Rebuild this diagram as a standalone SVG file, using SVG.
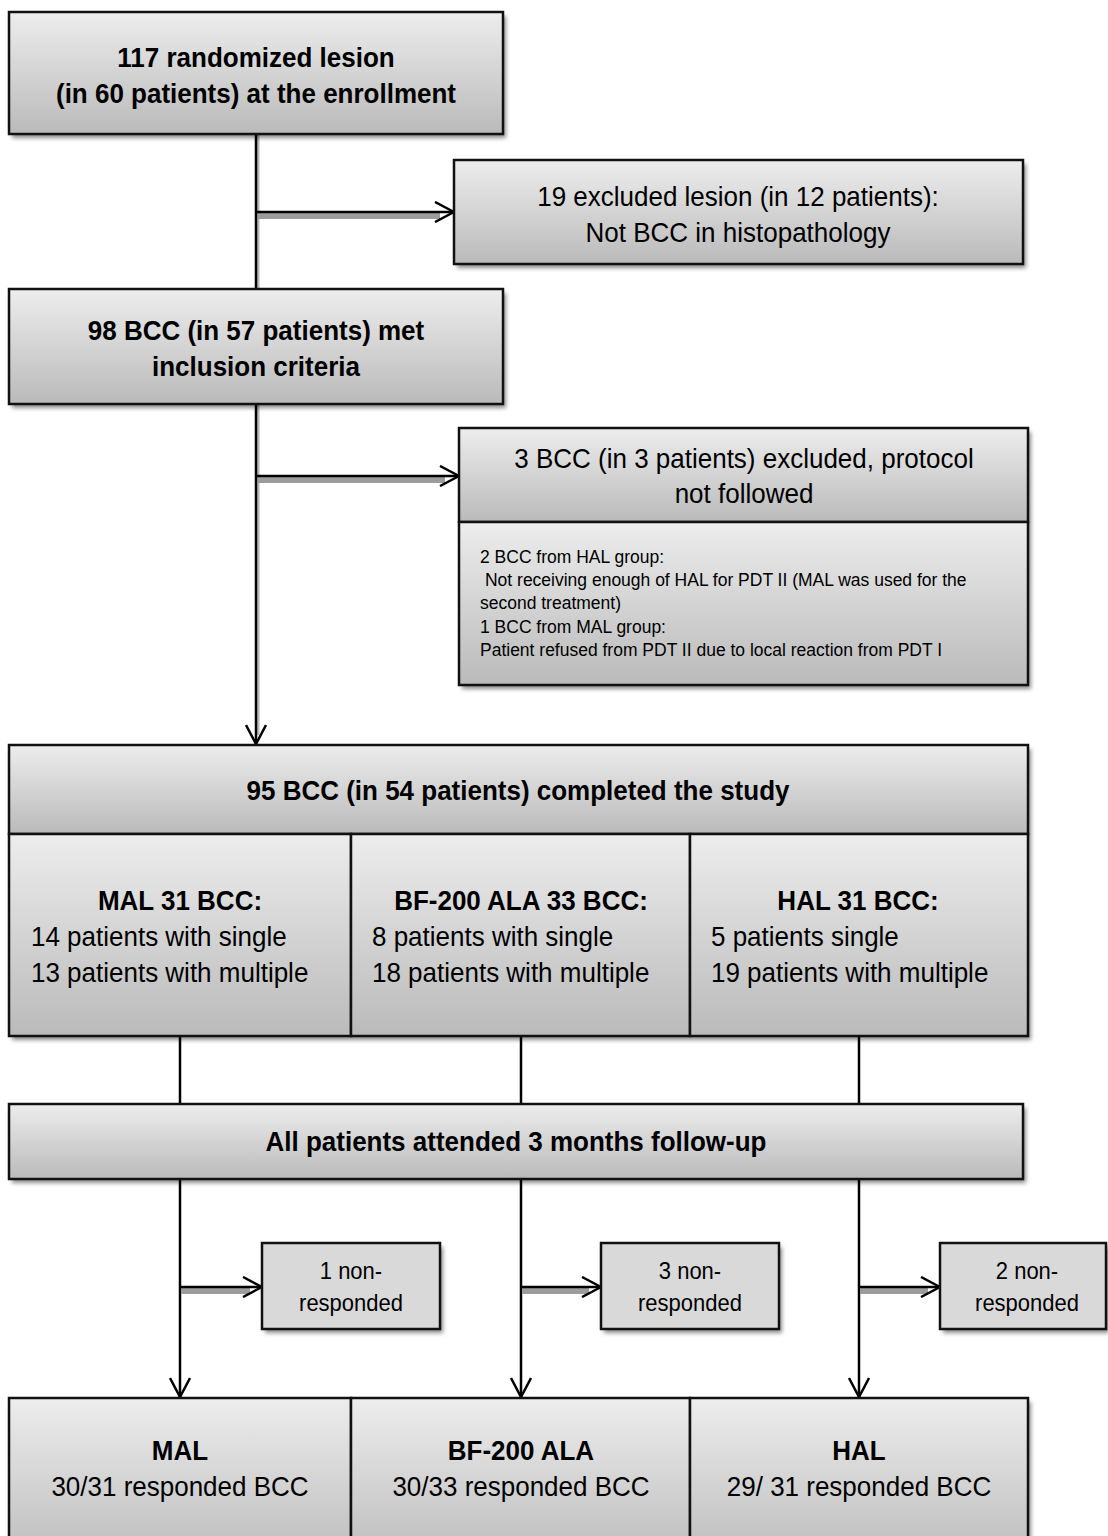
<svg xmlns="http://www.w3.org/2000/svg" width="1108" height="1536" viewBox="0 0 1108 1536">
<defs>
<linearGradient id="g" x1="0" y1="0" x2="0" y2="1">
<stop offset="0" stop-color="#ededed"/>
<stop offset="1" stop-color="#bababa"/>
</linearGradient>
<filter id="sh" x="-5%" y="-10%" width="115%" height="130%">
<feDropShadow dx="3" dy="4" stdDeviation="2" flood-color="#000" flood-opacity="0.45"/>
</filter>
<marker id="ah" viewBox="0 0 22 22" refX="20" refY="11" markerWidth="22" markerHeight="22" markerUnits="userSpaceOnUse" orient="auto">
<path d="M1,1 L20,11 L1,21" fill="none" stroke="#000" stroke-width="2.5"/>
</marker>
<style>
.box{fill:url(#g);stroke:#111;stroke-width:2.5}
.flat{fill:#d9d9d9;stroke:#111;stroke-width:2.5}
.shd{fill:#888;filter:url(#sh)}
.ln{stroke:#000;stroke-width:2.5;fill:none}
.sl{stroke:#9c9c9c;stroke-width:6;fill:none}
.vs{stroke:#b8b8b8;stroke-width:3;fill:none}
text{font-family:"Liberation Sans",Arial,sans-serif;fill:#000;transform-box:fill-box;transform-origin:50% 100%;transform:scaleY(1.08)}
.b{font-size:26px;font-weight:bold;text-anchor:middle}
.r{font-size:26px;text-anchor:middle}
.l{font-size:26px}
.s{font-size:17.5px}
.n{font-size:22px;text-anchor:middle}
</style>
</defs>
<rect width="1108" height="1536" fill="#fff"/>

<g id="connectors">
<line class="vs" x1="258" y1="134" x2="258" y2="289"/>
<line class="vs" x1="258" y1="404" x2="258" y2="735"/>
<line class="ln" x1="256" y1="134" x2="256" y2="289"/>
<line class="ln" x1="256" y1="404" x2="256" y2="744" marker-end="url(#ah)"/>
<line class="sl" x1="258" y1="216" x2="440" y2="216"/>
<line class="ln" x1="256" y1="212" x2="454" y2="212" marker-end="url(#ah)"/>
<line class="sl" x1="258" y1="480" x2="445" y2="480"/>
<line class="ln" x1="256" y1="476" x2="459" y2="476" marker-end="url(#ah)"/>
<line class="ln" x1="180" y1="1036" x2="180" y2="1104"/>
<line class="ln" x1="521" y1="1036" x2="521" y2="1104"/>
<line class="ln" x1="859" y1="1036" x2="859" y2="1104"/>
<line class="ln" x1="180" y1="1179" x2="180" y2="1397" marker-end="url(#ah)"/>
<line class="ln" x1="521" y1="1179" x2="521" y2="1397" marker-end="url(#ah)"/>
<line class="ln" x1="859" y1="1179" x2="859" y2="1397" marker-end="url(#ah)"/>
<line class="sl" x1="181" y1="1291" x2="250" y2="1291"/>
<line class="ln" x1="180" y1="1287" x2="262" y2="1287" marker-end="url(#ah)"/>
<line class="sl" x1="522" y1="1291" x2="589" y2="1291"/>
<line class="ln" x1="521" y1="1287" x2="601" y2="1287" marker-end="url(#ah)"/>
<line class="sl" x1="860" y1="1291" x2="928" y2="1291"/>
<line class="ln" x1="859" y1="1287" x2="940" y2="1287" marker-end="url(#ah)"/>
</g>

<g id="enrollment">
<rect class="shd" x="9" y="12" width="494" height="122"/>
<rect class="box" x="9" y="12" width="494" height="122"/>
<text class="b" x="256" y="67">117 randomized lesion</text>
<text class="b" x="256" y="103">(in 60 patients) at the enrollment</text>
</g>

<g id="excluded1">
<rect class="shd" x="454" y="160" width="569" height="104"/>
<rect class="box" x="454" y="160" width="569" height="104"/>
<text class="r" x="738" y="206">19 excluded lesion (in 12 patients):</text>
<text class="r" x="738" y="242">Not BCC in histopathology</text>
</g>

<g id="inclusion">
<rect class="shd" x="9" y="289" width="494" height="115"/>
<rect class="box" x="9" y="289" width="494" height="115"/>
<text class="b" x="256" y="340">98 BCC (in 57 patients) met</text>
<text class="b" x="256" y="376">inclusion criteria</text>
</g>

<g id="excluded2">
<rect class="shd" x="459" y="428" width="569" height="257"/>
<rect class="box" x="459" y="428" width="569" height="94"/>
<rect class="box" x="459" y="522" width="569" height="163"/>
<text class="r" x="744" y="468">3 BCC (in 3 patients) excluded, protocol</text>
<text class="r" x="744" y="503">not followed</text>
<text class="s" x="480" y="563">2 BCC from HAL group:</text>
<text class="s" x="485" y="586">Not receiving enough of HAL for PDT II (MAL was used for the</text>
<text class="s" x="480" y="609">second treatment)</text>
<text class="s" x="480" y="633">1 BCC from MAL group:</text>
<text class="s" x="480" y="656">Patient refused from PDT II due to local reaction from PDT I</text>
</g>

<g id="completed">
<rect class="shd" x="9" y="745" width="1019" height="291"/>
<rect class="box" x="9" y="745" width="1019" height="89"/>
<rect class="box" x="9" y="834" width="342" height="202"/>
<rect class="box" x="351" y="834" width="339" height="202"/>
<rect class="box" x="690" y="834" width="338" height="202"/>
<text class="b" x="518" y="800">95 BCC (in 54 patients) completed the study</text>
<text class="b" x="180" y="910">MAL 31 BCC:</text>
<text class="l" x="31" y="946">14 patients with single</text>
<text class="l" x="31" y="982">13 patients with multiple</text>
<text class="b" x="521" y="910">BF-200 ALA 33 BCC:</text>
<text class="l" x="372" y="946">8 patients with single</text>
<text class="l" x="372" y="982">18 patients with multiple</text>
<text class="b" x="858" y="910">HAL 31 BCC:</text>
<text class="l" x="711" y="946">5 patients single</text>
<text class="l" x="711" y="982">19 patients with multiple</text>
</g>

<g id="followup">
<rect class="shd" x="9" y="1104" width="1014" height="75"/>
<rect class="box" x="9" y="1104" width="1014" height="75"/>
<text class="b" x="516" y="1151">All patients attended 3 months follow-up</text>
</g>

<g id="nonresp-mal">
<rect class="shd" x="262" y="1243" width="178" height="86"/>
<rect class="flat" x="262" y="1243" width="178" height="86"/>
<text class="n" x="351" y="1279">1 non-</text>
<text class="n" x="351" y="1311">responded</text>
</g>

<g id="nonresp-bf">
<rect class="shd" x="601" y="1243" width="178" height="86"/>
<rect class="flat" x="601" y="1243" width="178" height="86"/>
<text class="n" x="690" y="1279">3 non-</text>
<text class="n" x="690" y="1311">responded</text>
</g>

<g id="nonresp-hal">
<rect class="shd" x="940" y="1243" width="166" height="86"/>
<rect class="flat" x="940" y="1243" width="166" height="86"/>
<text class="n" x="1027" y="1279">2 non-</text>
<text class="n" x="1027" y="1311">responded</text>
</g>

<g id="results">
<rect class="shd" x="9" y="1398" width="1019" height="170"/>
<rect class="box" x="9" y="1398" width="342" height="170"/>
<rect class="box" x="351" y="1398" width="339" height="170"/>
<rect class="box" x="690" y="1398" width="338" height="170"/>
<text class="b" x="180" y="1460">MAL</text>
<text class="r" x="180" y="1496">30/31 responded BCC</text>
<text class="b" x="521" y="1460">BF-200 ALA</text>
<text class="r" x="521" y="1496">30/33 responded BCC</text>
<text class="b" x="859" y="1460">HAL</text>
<text class="r" x="859" y="1496">29/ 31 responded BCC</text>
</g>
</svg>
